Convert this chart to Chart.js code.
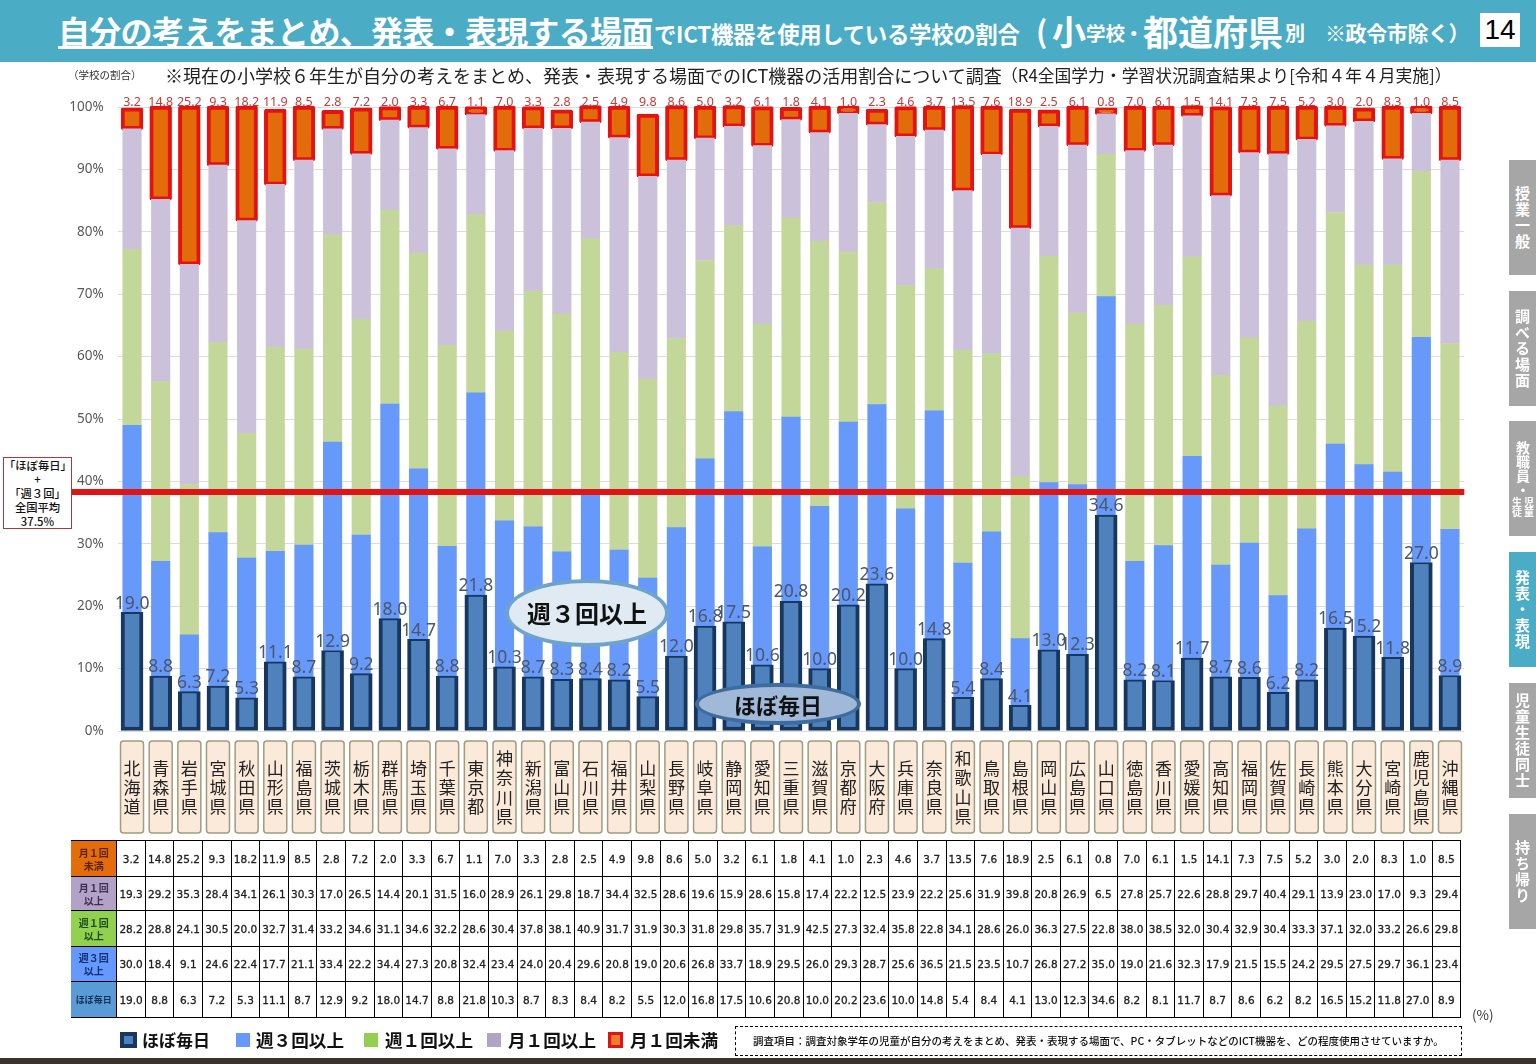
<!DOCTYPE html>
<html lang="ja">
<head>
<meta charset="utf-8">
<script src="https://cdn.jsdelivr.net/npm/chart.js@4"></script>
<style>
html, body { margin: 0; padding: 0; background: #fff; }
body { width: 1536px; height: 1064px; overflow: hidden; position: relative; font-family: "Noto Sans CJK JP", sans-serif; }
canvas { position: absolute; left: 0; top: 0; }
.abs { position: absolute; white-space: nowrap; }
#head { left: 0; top: 0; width: 1536px; height: 62px; background: #4bacc6; }
.ttl { color: #fff; font-weight: 700; transform-origin: left center; line-height: 1; }
#pageno { left: 1480px; top: 13px; width: 40px; height: 34px; background: #fff; color: #000; font: 28px "Liberation Sans"; text-align: center; line-height: 34px; }
.tab { left: 1509px; width: 27px; height: 115px; background: #a6a6a6; color: #fff; font-weight: 700; font-size: 15px; writing-mode: vertical-rl; text-align: center; line-height: 27px; letter-spacing: 1px; display: flex; justify-content: center; align-items: center; }
#note { left: 3px; top: 457px; width: 67px; height: 70px; border: 1px solid #a8393d; background: #fff; font-size: 11.3px; font-weight: 500; line-height: 14px; text-align: center; color: #111; }
.oval { border-radius: 50%; text-align: center; font-weight: 700; color: #111; box-sizing: border-box; }
#tbl { position: absolute; left: 71px; top: 840px; border-collapse: collapse; table-layout: fixed; width: 1390px; }
#tbl td { border: 1px solid #000; text-align: center; padding: 0; font: 10.5px "DejaVu Sans"; color: #222; -webkit-text-stroke: 0.3px #222; }
#tbl td.hd { border-left: none; font: 700 10px/13px "Noto Sans CJK JP"; -webkit-text-stroke: 0; width: 45px; }
.sw { position: absolute; box-sizing: border-box; }
.lg { font-size: 17.6px; font-weight: 700; color: #111; line-height: 1; }
#foot { left: 735px; top: 1026px; width: 725px; height: 28px; border: 1px dashed #000; font-size: 10.5px; font-weight: 500; line-height: 28px; color: #111; text-indent: 17px; }
#bottom { left: 0; top: 1058px; width: 1536px; height: 6px; background: #3a322c; }
</style>
</head>
<body>
<canvas id="chart" width="1536" height="1064"></canvas>

<div class="abs" id="head"></div>
<div class="abs ttl" style="left:58px;top:14px;font-size:32px;letter-spacing:-0.7px;border-bottom:3px solid #fff;padding-bottom:0">自分の考えをまとめ、発表・表現する場面</div>
<div class="abs ttl" style="left:654px;top:22px;font-size:22.4px;letter-spacing:-0.3px">でICT機器を使用している学校の割合</div>
<div class="abs ttl" style="left:1036px;top:15px;font-size:30px">(</div>
<div class="abs ttl" style="left:1052px;top:14px;font-size:34px">小</div>
<div class="abs ttl" style="left:1086px;top:23px;font-size:19.5px">学校</div>
<div class="abs ttl" style="left:1124px;top:23px;font-size:19.5px">・</div>
<div class="abs ttl" style="left:1143px;top:13px;font-size:35px">都道府県</div>
<div class="abs ttl" style="left:1285px;top:23px;font-size:20px">別</div>
<div class="abs ttl" style="left:1325px;top:22px;font-size:21px;letter-spacing:-0.4px">※政令市除く）</div>
<div class="abs" id="pageno">14</div>

<div class="abs" style="left:68px;top:68px;font-size:10.5px;color:#333;line-height:14px">（学校の割合）</div>
<div class="abs" style="left:165px;top:63px;font-size:18px;color:#222;line-height:24px;letter-spacing:0">※現在の小学校６年生が自分の考えをまとめ、発表・表現する場面でのICT機器の活用割合について調査</div>
<div class="abs" style="left:1001px;top:64px;font-size:16.8px;color:#222;line-height:22px;letter-spacing:0">（R4全国学力・学習状況調査結果より[令和４年４月実施]）</div>

<div class="abs" id="note">「ほぼ毎日」<br>+<br>「週３回」<br>全国平均<br>37.5%</div>

<div class="abs oval" style="left:505px;top:579px;width:164px;height:68px;background:#dfeaf3;border:4px solid #6ea3cc;font-size:24px;line-height:60px">週３回以上</div>
<div class="abs oval" style="left:695px;top:683px;width:166px;height:42px;background:#a0b9d9;border:4px solid #3f6c9f;font-size:22px;line-height:34px">ほぼ毎日</div>

<div class="abs tab" style="top:160px;background:#a6a6a6">授業一般</div>
<div class="abs tab" style="top:291px">調べる場面</div>
<div class="abs tab" style="top:421px;letter-spacing:0;font-size:14px"><span>教職員・</span><span style="font-size:10px;line-height:12px">児童<br>生徒</span></div>
<div class="abs tab" style="top:552px;background:#4bacc6">発表・表現</div>
<div class="abs tab" style="top:683px">児童生徒同士</div>
<div class="abs tab" style="top:814px">持ち帰り</div>

<table id="tbl"></table>
<div class="abs" style="left:1472px;top:1005px;font-size:13.5px;color:#333;line-height:18px">(%)</div>

<div class="sw" style="left:120px;top:1032px;width:17px;height:16px;background:#4f81bd;border:4px solid #17375e"></div>
<div class="abs lg" style="left:142px;top:1031px;font-size:17px">ほぼ毎日</div>
<div class="sw" style="left:236px;top:1033px;width:14px;height:14px;background:#6699f9"></div>
<div class="abs lg" style="left:256px;top:1031px">週３回以上</div>
<div class="sw" style="left:364px;top:1033px;width:14px;height:14px;background:#92d050"></div>
<div class="abs lg" style="left:385px;top:1031px">週１回以上</div>
<div class="sw" style="left:487px;top:1033px;width:14px;height:14px;background:#b2a2c7"></div>
<div class="abs lg" style="left:508px;top:1031px">月１回以上</div>
<div class="sw" style="left:608px;top:1032px;width:15px;height:16px;background:#ed7d31;border:3px solid #e51212"></div>
<div class="abs lg" style="left:630px;top:1031px">月１回未満</div>

<div class="abs" id="foot">調査項目：調査対象学年の児童が自分の考えをまとめ、発表・表現する場面で、PC・タブレットなどのICT機器を、どの程度使用させていますか。</div>
<div class="abs" id="bottom"></div>

<script>
var prefectures = ['北海道','青森県','岩手県','宮城県','秋田県','山形県','福島県','茨城県','栃木県','群馬県','埼玉県','千葉県','東京都','神奈川県','新潟県','富山県','石川県','福井県','山梨県','長野県','岐阜県','静岡県','愛知県','三重県','滋賀県','京都府','大阪府','兵庫県','奈良県','和歌山県','鳥取県','島根県','岡山県','広島県','山口県','徳島県','香川県','愛媛県','高知県','福岡県','佐賀県','長崎県','熊本県','大分県','宮崎県','鹿児島県','沖縄県'];

var daily = [19.0,8.8,6.3,7.2,5.3,11.1,8.7,12.9,9.2,18.0,14.7,8.8,21.8,10.3,8.7,8.3,8.4,8.2,5.5,12.0,16.8,17.5,10.6,20.8,10.0,20.2,23.6,10.0,14.8,5.4,8.4,4.1,13.0,12.3,34.6,8.2,8.1,11.7,8.7,8.6,6.2,8.2,16.5,15.2,11.8,27.0,8.9];
var week3 = [30.0,18.4,9.1,24.6,22.4,17.7,21.1,33.4,22.2,34.4,27.3,20.8,32.4,23.4,24.0,20.4,29.6,20.8,19.0,20.6,26.8,33.7,18.9,29.5,26.0,29.3,28.7,25.6,36.5,21.5,23.5,10.7,26.8,27.2,35.0,19.0,21.6,32.3,17.9,21.5,15.5,24.2,29.5,27.5,29.7,36.1,23.4];
var week1 = [28.2,28.8,24.1,30.5,20.0,32.7,31.4,33.2,34.6,31.1,34.6,32.2,28.6,30.4,37.8,38.1,40.9,31.7,31.9,30.3,31.8,29.8,35.7,31.9,42.5,27.3,32.4,35.8,22.8,34.1,28.6,26.0,36.3,27.5,22.8,38.0,38.5,32.0,30.4,32.9,30.4,33.3,37.1,32.0,33.2,26.6,29.8];
var month1 = [19.3,29.2,35.3,28.4,34.1,26.1,30.3,17.0,26.5,14.4,20.1,31.5,16.0,28.9,26.1,29.8,18.7,34.4,32.5,28.6,19.6,15.9,28.6,15.8,17.4,22.2,12.5,23.9,22.2,25.6,31.9,39.8,20.8,26.9,6.5,27.8,25.7,22.6,28.8,29.7,40.4,29.1,13.9,23.0,17.0,9.3,29.4];
var underMonth = [3.2,14.8,25.2,9.3,18.2,11.9,8.5,2.8,7.2,2.0,3.3,6.7,1.1,7.0,3.3,2.8,2.5,4.9,9.8,8.6,5.0,3.2,6.1,1.8,4.1,1.0,2.3,4.6,3.7,13.5,7.6,18.9,2.5,6.1,0.8,7.0,6.1,1.5,14.1,7.3,7.5,5.2,3.0,2.0,8.3,1.0,8.5];
var averageLine = 38.3;

// table under the chart
var tableRows = [
	{ head: '月１回<br>未満', bg: '#e46c0a', color: '#5a2500', h: 36, values: underMonth },
	{ head: '月１回<br>以上', bg: '#b2a2c7', color: '#3c2f52', h: 34, values: month1 },
	{ head: '週１回<br>以上', bg: '#92d050', color: '#1d4d14', h: 36, values: week1 },
	{ head: '週３回<br>以上', bg: '#6699ff', color: '#10306e', h: 35, values: week3 },
	{ head: 'ほぼ毎日', bg: '#5b9bd5', color: '#12305a', h: 36, values: daily }
];
var tbl = document.getElementById('tbl');
var html = '<colgroup><col style="width:45.8px">';
for(var c = 0; c < prefectures.length; c++) html += '<col style="width:28.6px">';
html += '</colgroup>';
tableRows.forEach(function(r) {
	html += '<tr style="height:' + r.h + 'px"><td class="hd" style="background:' + r.bg + ';color:' + r.color + (r.head === 'ほぼ毎日' ? ';font-size:9px' : '') + '">' + r.head + '</td>';
	r.values.forEach(function(v) { html += '<td>' + v.toFixed(1) + '</td>'; });
	html += '</tr>';
});
tbl.innerHTML = html;

// prefecture name boxes, centred on the category ticks
var prefBoxes = {
	id: 'prefBoxes',
	afterDraw: function(chart) {
		var ctx = chart.ctx, xs = chart.scales.x;
		ctx.save();
		prefectures.forEach(function(name, i) {
			var x = xs.getPixelForTick(i);
			ctx.beginPath();
			ctx.roundRect(x - 11.5, 741, 23, 92, 3);
			ctx.fillStyle = '#fbe9d9';
			ctx.fill();
			ctx.lineWidth = 1.5;
			ctx.strokeStyle = '#a09c80';
			ctx.stroke();
			ctx.fillStyle = '#222';
			ctx.font = '17px "Noto Sans CJK JP"';
			ctx.textAlign = 'center';
			ctx.textBaseline = 'middle';
			var chars = Array.from(name);
			var top = 787.5 - (chars.length - 1) * 19.4 / 2;
			chars.forEach(function(ch, k) { ctx.fillText(ch, x, top + k * 19.4); });
		});
		ctx.restore();
	}
};

// national average line and the value labels
var overlay = {
	id: 'overlay',
	afterDatasetsDraw: function(chart) {
		var ctx = chart.ctx, ys = chart.scales.y, area = chart.chartArea;
		ctx.save();
		var ya = ys.getPixelForValue(averageLine);
		ctx.strokeStyle = '#e01414';
		ctx.lineWidth = 6;
		ctx.beginPath();
		ctx.moveTo(72, ya);
		ctx.lineTo(area.right, ya);
		ctx.stroke();

		ctx.textAlign = 'center';
		ctx.textBaseline = 'bottom';
		ctx.font = '17.5px "Noto Sans"';
		ctx.fillStyle = '#4a566a';
		chart.getDatasetMeta(0).data.forEach(function(el, i) {
			ctx.fillText(daily[i].toFixed(1), el.x, el.y);
		});
		ctx.font = '12.5px "Noto Sans"';
		ctx.fillStyle = '#c23a3a';
		chart.getDatasetMeta(4).data.forEach(function(el, i) {
			ctx.fillText(underMonth[i].toFixed(1), el.x, ys.getPixelForValue(100) + 2);
		});
		ctx.restore();
	}
};

new Chart(document.getElementById('chart'), {
	type: 'bar',
	data: {
		labels: prefectures,
		datasets: [
			{ label: 'ほぼ毎日', data: daily, backgroundColor: '#4f81bd', borderColor: '#17375e', borderWidth: { left: 4, right: 4, top: 2, bottom: 4 }, borderSkipped: false, borderRadius: 2, barThickness: 22, clip: false },
			{ label: '週３回以上', data: week3, backgroundColor: '#6699f9', barThickness: 18.5 },
			{ label: '週１回以上', data: week1, backgroundColor: '#c4d79b', barThickness: 18.5 },
			{ label: '月１回以上', data: month1, backgroundColor: '#ccc1da', barThickness: 18.5 },
			{ label: '月１回未満', data: underMonth, backgroundColor: '#e36c0a', borderColor: '#e51212', borderWidth: 4, borderSkipped: false, borderRadius: 2, barThickness: 20, inflateAmount: 1.25, clip: false }
		]
	},
	options: {
		responsive: false,
		animation: false,
		devicePixelRatio: 1,
		layout: { padding: { top: 107, right: 71.7, left: 0, bottom: 0 } },
		plugins: { legend: { display: false }, title: { display: false }, tooltip: { enabled: false } },
		scales: {
			x: {
				stacked: true,
				grid: { display: false },
				border: { display: false },
				ticks: { display: false },
				afterFit: function(scale) { scale.height = 333; }
			},
			y: {
				stacked: true,
				min: 0,
				max: 100,
				grid: { color: '#dcdcdc', drawTicks: false },
				border: { display: false },
				ticks: {
					stepSize: 10,
					padding: 14,
					color: '#595959',
					font: { size: 13.5, family: '"Noto Sans"' },
					callback: function(v) { return v + '%'; }
				},
				afterFit: function(scale) { scale.width = 117.7; }
			}
		}
	},
	plugins: [prefBoxes, overlay]
});
</script>
</body>
</html>
